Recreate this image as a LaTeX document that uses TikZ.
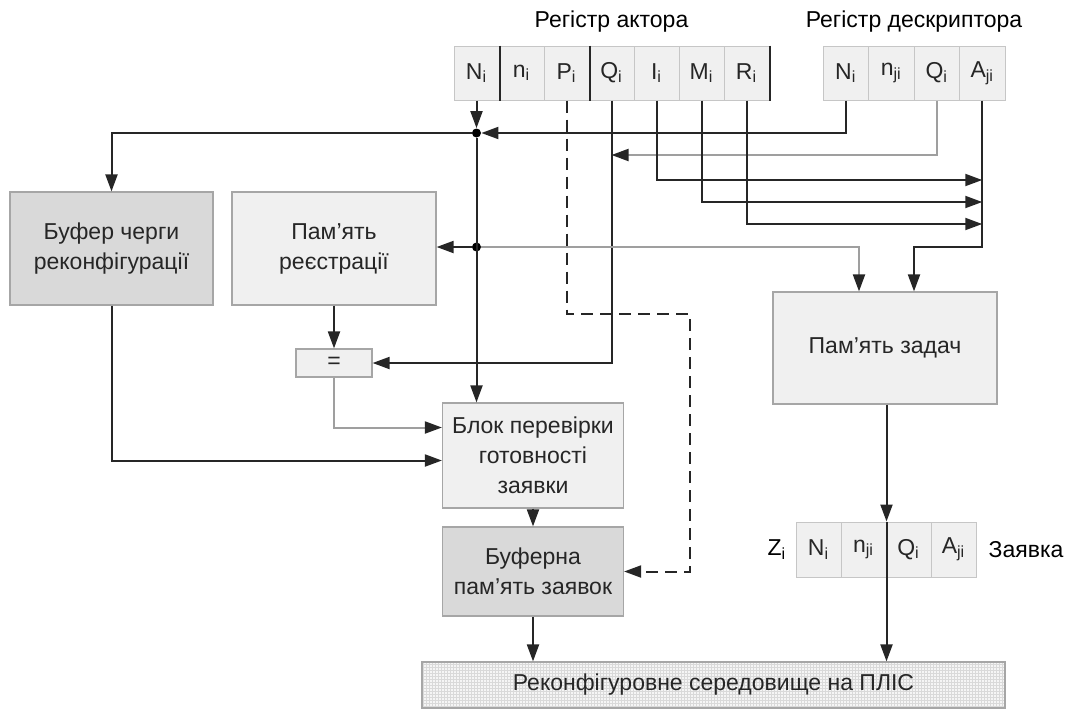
\documentclass[tikz,border=0pt]{standalone}
\usepackage{fontspec}
\setmainfont{Liberation Sans}
\usetikzlibrary{arrows.meta,calc}

\begin{document}
\begin{tikzpicture}[x=0.5pt,y=-0.5pt,
  font=\fontsize{11.5}{15}\selectfont,
  >={Triangle[length=8.5pt,width=6pt]},
  block/.style={draw=gray!70,line width=0.6pt,align=center,inner sep=0pt,text=black!85},
  regcell/.style={draw=gray!45,fill=gray!12,line width=0.5pt,minimum width=22.5pt,minimum height=27pt,inner sep=0pt,text=black!85},
  wire/.style={draw=black!85,line width=1pt},
  gline/.style={draw=gray!75,line width=1pt,-{Triangle[length=8.5pt,width=6pt,color=black!85]}},
  dline/.style={draw=black!85,line width=1pt,dash pattern=on 6pt off 3.5pt},
  jdot/.style={circle,fill=black,inner sep=0pt,minimum size=4.5pt},
  regsep/.style={draw=black!85,line width=1pt}]
\useasboundingbox (0,0) rectangle (1066,713);

% register titles
\node (atitle) at (611.5,22) {Регістр актора};
\node (dtitle) at (914,22) {Регістр дескриптора};

% actor register
\node[regcell] (aN) at (476.5,73) {N\textsubscript{i}};
\node[regcell] (an) at (521.5,73) {n\textsubscript{i}};
\node[regcell] (aP) at (566.5,73) {P\textsubscript{i}};
\node[regcell] (aQ) at (611.5,73) {Q\textsubscript{i}};
\node[regcell] (aI) at (656.5,73) {I\textsubscript{i}};
\node[regcell] (aM) at (701.5,73) {M\textsubscript{i}};
\node[regcell] (aR) at (746.5,73) {R\textsubscript{i}};
\path[regsep] (aN.north east) -- (aN.south east);
\path[regsep] (aP.north east) -- (aP.south east);
\path[regsep] (aR.north east) -- (aR.south east);

% descriptor register
\node[regcell,minimum width=22.75pt] (dN) at (845.75,73) {N\textsubscript{i}};
\node[regcell,minimum width=22.75pt] (dn) at (891.25,73) {n\textsubscript{ji}};
\node[regcell,minimum width=22.75pt] (dQ) at (936.75,73) {Q\textsubscript{i}};
\node[regcell,minimum width=22.75pt] (dA) at (982.25,73) {A\textsubscript{ji}};

% blocks
\node[block,fill=gray!30,minimum width=101.5pt,minimum height=56.5pt] (bufq) at (111.5,248.5) {Буфер черги\\реконфігурації};
\node[block,fill=gray!12,minimum width=102pt,minimum height=56.5pt] (regmem) at (334,248.5) {Пам'ять\\реєстрації};
\node[block,fill=gray!12,minimum width=38pt,minimum height=14pt] (cmp) at (334,363) {=};
\node[block,fill=gray!12,minimum width=90.5pt,minimum height=52.5pt] (check) at (533,455.5) {Блок перевірки\\готовності\\заявки};
\node[block,fill=gray!30,minimum width=90.5pt,minimum height=44.5pt] (bufreq) at (533,571.5) {Буферна\\пам'ять заявок};
\node[block,fill=gray!12,minimum width=112pt,minimum height=56pt] (taskmem) at (885,348) {Пам'ять задач};
\node[block,fill=gray!8,minimum width=291.5pt,minimum height=23pt,
  path picture={\draw[gray!30,line width=0.25pt] (path picture bounding box.south west) grid[step=1.5pt] (path picture bounding box.north east);}]
  (fpga) at (713.5,685) {Реконфігуровне середовище на ПЛІС};

% request register
\node (zlabel) at (777,549.5) {Z\textsubscript{i}};
\node[regcell,minimum height=27.5pt] (zN) at (818.5,549.5) {N\textsubscript{i}};
\node[regcell,minimum height=27.5pt] (zn) at (863.5,549.5) {n\textsubscript{ji}};
\node[regcell,minimum height=27.5pt] (zQ) at (908.5,549.5) {Q\textsubscript{i}};
\node[regcell,minimum height=27.5pt] (zA) at (953.5,549.5) {A\textsubscript{ji}};
\node (zname) at (1026,549.5) {Заявка};

% junctions
\node[jdot] (j1) at (476.5,133) {};
\node[jdot] (j2) at (476.5,247) {};
\coordinate (pturn) at (690,314);

% connections
\path[wire,->] (aN.south) -- (j1);
\path[wire,->] (dN.south) |- (j1);
\path[wire,->] (j1) -| (bufq.north);
\path[wire,->] (j1) -- (j1 |- check.north);
\path[wire,->] (aQ.south) |- (cmp.east);
\path[gline] (dQ.south) |- (aQ.south |- 0,155);
\path[wire,->] (aI.south) |- (dA.south |- 0,180);
\path[wire,->] (aM.south) |- (dA.south |- 0,202);
\path[wire,->] (aR.south) |- (dA.south |- 0,224);
\path[wire,->] (dA.south) -- (dA.south |- j2) -| ($(taskmem.north)+(29,0)$);
\path[wire,->] (j2) -- (regmem.east |- j2);
\path[gline] (j2) -| ($(taskmem.north)+(-26,0)$);
\path[dline,->] (aP.south) |- (pturn) |- (bufreq.east);
\path[wire,->] (regmem.south) -- (cmp.north);
\path[gline] (cmp.south) |- ($(check.west)+(0,-28)$);
\path[wire,->] (bufq.south) |- ($(check.west)+(0,5)$);
\path[wire,->] (check.south) -- (bufreq.north);
\path[wire,->] (bufreq.south) -- (bufreq.south |- fpga.north);
\path[wire,->] (zn.north east |- taskmem.south) -- (zn.north east);
\path[regsep] (zn.north east) -- (zn.south east);
\path[wire,->] (zn.south east) -- (zn.south east |- fpga.north);
\end{tikzpicture}
\end{document}
